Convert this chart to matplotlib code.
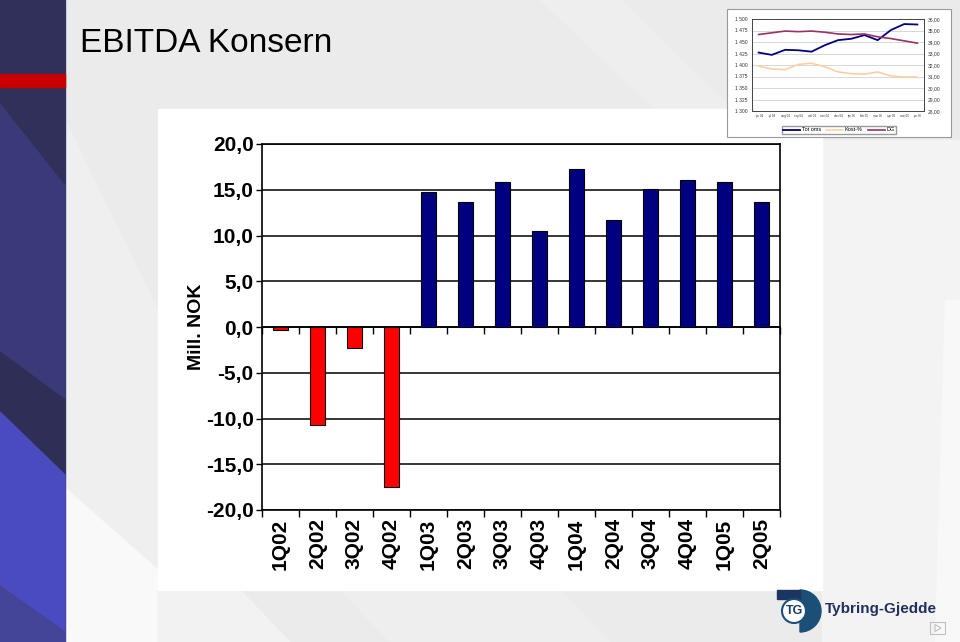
import numpy as np
import matplotlib
matplotlib.use('Agg')
import matplotlib.pyplot as plt
from matplotlib.patches import Rectangle, Polygon, Circle, Wedge
from matplotlib.ticker import FuncFormatter

plt.rcParams['font.family'] = ['Liberation Sans', 'DejaVu Sans']

# EBITDA per quarter, Mill. NOK
quarters = ['1Q02', '2Q02', '3Q02', '4Q02', '1Q03', '2Q03', '3Q03', '4Q03',
            '1Q04', '2Q04', '3Q04', '4Q04', '1Q05', '2Q05']
ebitda = [-0.3, -10.7, -2.3, -17.5, 14.7, 13.7, 15.9, 10.5,
          17.3, 11.7, 15.1, 16.1, 15.9, 13.7]
ebitda_ticks = [-20, -15, -10, -5, 0, 5, 10, 15, 20]

# small inset chart (monthly)
months = ['jun 04', 'jul 04', 'aug 04', 'sep 04', 'okt 04', 'nov 04', 'des 04',
          'jan 05', 'feb 05', 'mar 05', 'apr 05', 'mai 05', 'jun 05']
tot_oms = [1427, 1422, 1433, 1432, 1429, 1443, 1454, 1457, 1465, 1454, 1476, 1489, 1488]
kost_pct = [31.9, 31.65, 31.6, 32.05, 32.15, 31.85, 31.4, 31.25, 31.2, 31.4, 31.05, 30.95, 30.95]
dg = [34.65, 34.8, 34.95, 34.9, 34.95, 34.85, 34.7, 34.65, 34.7, 34.45, 34.3, 34.1, 33.9]
oms_ticks = [1300, 1325, 1350, 1375, 1400, 1425, 1450, 1475, 1500]
pct_ticks = [28, 29, 30, 31, 32, 33, 34, 35, 36]

W, H = 960, 642
fig = plt.figure(figsize=(W / 100, H / 100), dpi=100)

# ---- slide background (pixel coordinates) ----
bg = fig.add_axes([0, 0, 1, 1], zorder=0)
bg.set_xlim(0, W)
bg.set_ylim(H, 0)
bg.axis('off')
bg.add_patch(Rectangle((0, 0), W, H, color='#ebebeb'))
bg.add_patch(Polygon([(540, 0), (620, 0), (960, 330), (960, 400)], color='#eeeeee'))
bg.add_patch(Polygon([(65, 120), (158, 310), (158, 642), (65, 642)], color='#efefef'))
bg.add_patch(Polygon([(65, 488), (158, 570), (158, 642), (65, 642)], color='#f9f9f9'))
bg.add_patch(Rectangle((822, 140), 138, 502, color='#f3f3f3'))
bg.add_patch(Polygon([(945, 300), (960, 300), (960, 642), (935, 642)], color='#f8f8f8'))
bg.add_patch(Polygon([(158, 590), (240, 590), (290, 642), (158, 642)], color='#f2f2f2'))
bg.add_patch(Polygon([(340, 590), (560, 590), (610, 642), (390, 642)], color='#eeeeee'))

# left band
bg.add_patch(Rectangle((0, 0), 65, H, color='#3a3a78'))
bg.add_patch(Polygon([(0, 0), (65, 0), (65, 184), (0, 102)], color='#30305a'))
bg.add_patch(Polygon([(0, 352), (65, 400), (65, 475), (0, 412)], color='#2e2e56'))
bg.add_patch(Polygon([(0, 412), (65, 475), (65, 642), (0, 642)], color='#4b4bc0'))
bg.add_patch(Polygon([(0, 586), (65, 632), (65, 642), (0, 642)], color='#444498'))
bg.add_patch(Rectangle((0, 74), 65, 13, color='#c80000'))

# red line under title, fading out to the right
n = 400
grad = np.zeros((1, n, 4))
grad[..., 0] = 0.78
xs = np.linspace(65, 740, n)
grad[0, :, 3] = np.clip((740 - xs) / 180, 0, 1)
bg.imshow(grad, extent=[65, 740, 87, 83], aspect='auto', interpolation='bilinear')

bg.text(80, 52, 'EBITDA Konsern', fontsize=24, color='black', va='baseline', ha='left')

# white panel behind chart
bg.add_patch(Rectangle((158, 109), 664, 481, color='white'))

# logo
logo_c = '#1b4f78'
bg.add_patch(Wedge((800, 611), 21, -90, 90, color=logo_c))
bg.add_patch(Rectangle((777, 590), 23, 9, color='#1a3560'))
bg.add_patch(Circle((794, 611), 12, facecolor='white', edgecolor=logo_c, lw=1.5))
bg.text(794, 611, 'TG', fontsize=9, fontweight='bold', color='#1b3a6a', ha='center', va='center')
bg.text(825, 609, 'Tybring-Gjedde', fontsize=11, fontweight='bold', color='#23305e',
        ha='left', va='center')
bg.add_patch(Rectangle((930, 622), 15, 12, fill=False, edgecolor='#c0c0c0', lw=0.8))
bg.add_patch(Polygon([(935, 624.5), (935, 631.5), (941, 628)], fill=False,
                     edgecolor='#c0c0c0', lw=0.8))

# inset frame
bg.add_patch(Rectangle((727, 9), 224, 128, facecolor='white', edgecolor='#9a9a9a', lw=0.8))

# ---- main bar chart ----
ax = fig.add_axes([262 / W, 1 - 510 / H, 518 / W, 366 / H], zorder=2)
ax.patch.set_alpha(0)
x = np.arange(len(quarters))
colors = ['#ff0000' if v < 0 else '#000080' for v in ebitda]
ax.bar(x, ebitda, width=0.4, color=colors, edgecolor='black', linewidth=0.8, zorder=3)
ax.set_xlim(-0.5, len(quarters) - 0.5)
ax.set_ylim(-20, 20)
ax.set_yticks(ebitda_ticks)
ax.yaxis.set_major_formatter(FuncFormatter(lambda v, p: f'{v:.1f}'.replace('.', ',')))
ax.grid(axis='y', color='black', linewidth=1.1, zorder=1)

edges = np.arange(len(quarters) + 1) - 0.5
ax.set_xticks(edges)
ax.set_xticklabels([])
ax.set_xticks(x, minor=True)
ax.set_xticklabels(quarters, minor=True, rotation=90, fontsize=15, fontweight='bold')
ax.tick_params(axis='x', which='minor', length=0, pad=6)
ax.tick_params(axis='x', which='major', direction='out', length=5, width=1)
ax.tick_params(axis='y', direction='out', length=4, width=1, labelsize=15, pad=2)
for lab in ax.get_yticklabels():
    lab.set_fontweight('bold')
for s in ax.spines.values():
    s.set_linewidth(1.2)

zero = ax.secondary_xaxis(0.5)
zero.set_alignment('bottom')
zero.set_xticks(edges)
zero.set_xticklabels([])
zero.tick_params(direction='out', length=5, width=1)
for s in zero.spines.values():
    s.set_linewidth(1.2)

ax.set_ylabel('Mill. NOK', fontsize=14, fontweight='bold')
ax.yaxis.set_label_coords(-0.110, 0.5)

# ---- inset line chart ----
ins = fig.add_axes([752 / W, 1 - 111 / H, 172 / W, 92 / H], zorder=3)
mx = np.arange(len(months))
l1, = ins.plot(mx, tot_oms, color='#000080', lw=1.3, label='Tot oms')
ins.set_ylim(1300, 1500)
ins.set_yticks(oms_ticks)
ins.set_yticklabels([f'{v:,}'.replace(',', ' ') for v in oms_ticks])
ins.set_xlim(-0.5, len(months) - 0.5)
ins.set_xticks(mx)
ins.set_xticklabels(months, fontsize=2.1, color='#333333')
ins.grid(axis='y', color='#c8c8c8', lw=0.5)
ins.tick_params(axis='y', length=0, labelsize=3.6, labelcolor='#333333', pad=3)
ins.tick_params(axis='x', length=0, labelcolor='#333333', pad=2.5)

ins2 = ins.twinx()
l2, = ins2.plot(mx, kost_pct, color='#ffcc99', lw=1.1, label='Kost-%')
l3, = ins2.plot(mx, dg, color='#993366', lw=1.2, label='DG')
ins2.set_ylim(28, 36)
ins2.set_yticks(pct_ticks)
ins2.set_yticklabels([f'{v:.2f}'.replace('.', ',') for v in pct_ticks])
ins2.tick_params(length=0, labelsize=3.6, labelcolor='#333333', pad=3)
for a in (ins, ins2):
    for s in a.spines.values():
        s.set_linewidth(0.6)
        s.set_color('#444444')

fig.legend([l1, l2, l3], ['Tot oms', 'Kost-%', 'DG'], loc='center',
           bbox_to_anchor=(839 / W, 1 - 130 / H), ncol=3, fontsize=4,
           frameon=True, fancybox=False, edgecolor='#9a9a9a', framealpha=1,
           handlelength=3, columnspacing=1.0, handletextpad=0.3, borderpad=0.3)

fig.savefig('out.png', dpi=100)
